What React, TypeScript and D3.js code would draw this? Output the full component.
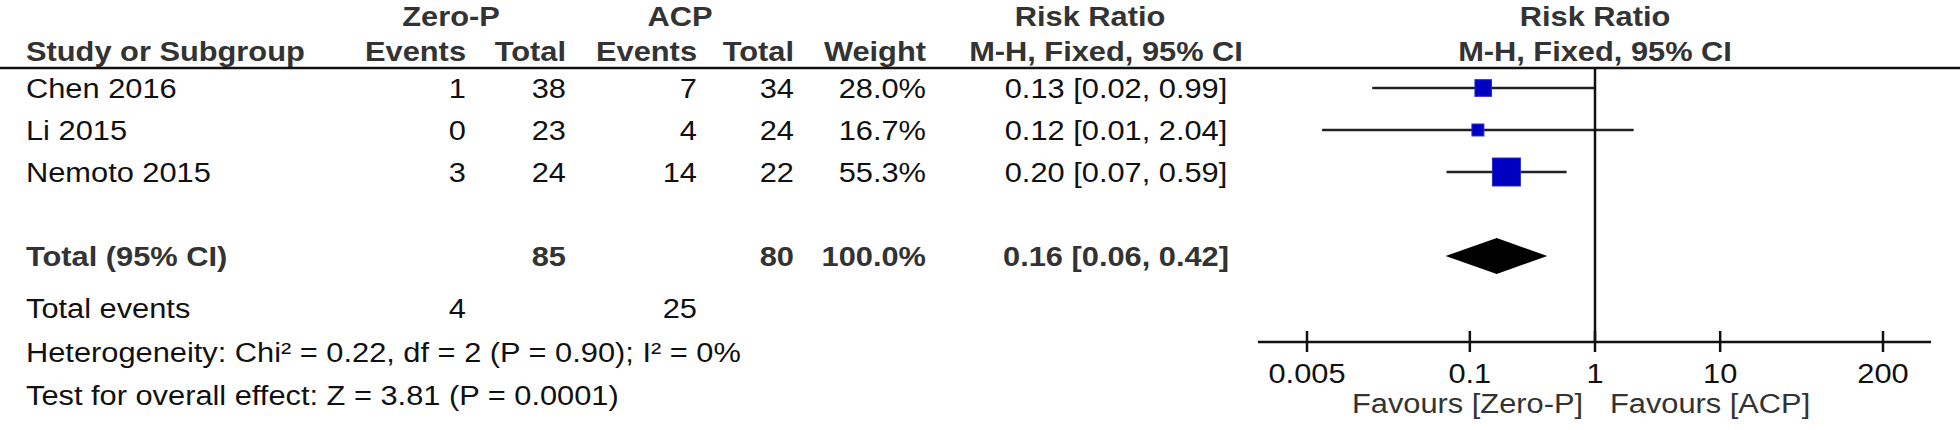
import React from 'react'
import * as d3 from 'd3'

// study rows
const studies = ['Chen 2016', 'Li 2015', 'Nemoto 2015']
const zeroEvents = [1, 0, 3]
const zeroTotal = [38, 23, 24]
const acpEvents = [7, 4, 14]
const acpTotal = [34, 24, 22]
const weights = [28.0, 16.7, 55.3]
const riskRatio = [0.128, 0.116, 0.196]
const ciLow = [0.0166, 0.0066, 0.0651]
const ciHigh = [0.987, 2.036, 0.593]

// pooled
const totalZero = 85
const totalAcp = 80
const totalWeight = 100.0
const pooledRR = 0.164
const pooledLow = 0.064
const pooledHigh = 0.416
const totalEventsZero = 4
const totalEventsAcp = 25
const heterogeneity = 'Heterogeneity: Chi² = 0.22, df = 2 (P = 0.90); I² = 0%'
const overallEffect = 'Test for overall effect: Z = 3.81 (P = 0.0001)'

const axisTicks = [0.005, 0.1, 1, 10, 200]
const favours = ['Favours [Zero-P]', 'Favours [ACP]']

const W = 1960
const H = 430
const FONT = '"Liberation Sans", Arial, Helvetica, sans-serif'
const FS = 28
const STRETCH = 1.1 // the source text is a little wider than Arial

// column anchors
const COL = {
  study: 26,
  zeroEv: 466,
  zeroTot: 566,
  acpEv: 697,
  acpTot: 794,
  weight: 926,
  rr: 1116,
}

const f2 = d3.format('.2f')
const f1 = d3.format('.1f')
const ciText = (m: number, lo: number, hi: number) => `${f2(m)} [${f2(lo)}, ${f2(hi)}]`

type TProps = {
  x: number
  y: number
  anchor?: 'start' | 'middle' | 'end'
  bold?: boolean
  fill?: string
  children: React.ReactNode
}

// text with a slight horizontal stretch
function T({ x, y, anchor = 'start', bold = false, fill = '#111', children }: TProps) {
  return (
    <text
      transform={`translate(${x},${y}) scale(${STRETCH},1)`}
      textAnchor={anchor}
      fontWeight={bold ? 700 : 400}
      fill={fill}
    >
      {children}
    </text>
  )
}

export default function App() {
  const x = d3.scaleLog().domain([0.005, 200]).range([1307, 1883])
  const row = d3.scaleLinear().domain([0, 4]).range([88, 256])
  const box = d3.scaleLinear().domain([0, d3.max(weights) as number]).range([5, 28])
  const axisY = 342
  const headerLine = 68
  const footer = [318, 362, 405]
  const HC = '#333'

  const diamond = [
    [x(pooledLow), row(4)],
    [x(pooledRR), row(4) - 18],
    [x(pooledHigh), row(4)],
    [x(pooledRR), row(4) + 18],
  ]

  return (
    <svg width={W} height={H} style={{ position: 'absolute', left: 0, top: 0, background: '#fff' }}
      fontFamily={FONT} fontSize={FS}>
      {/* header */}
      <T x={451} y={26} anchor="middle" bold fill={HC}>Zero-P</T>
      <T x={680} y={26} anchor="middle" bold fill={HC}>ACP</T>
      <T x={1090} y={26} anchor="middle" bold fill={HC}>Risk Ratio</T>
      <T x={x(1)} y={26} anchor="middle" bold fill={HC}>Risk Ratio</T>
      <T x={COL.study} y={61} bold fill={HC}>Study or Subgroup</T>
      <T x={COL.zeroEv} y={61} anchor="end" bold fill={HC}>Events</T>
      <T x={COL.zeroTot} y={61} anchor="end" bold fill={HC}>Total</T>
      <T x={COL.acpEv} y={61} anchor="end" bold fill={HC}>Events</T>
      <T x={COL.acpTot} y={61} anchor="end" bold fill={HC}>Total</T>
      <T x={COL.weight} y={61} anchor="end" bold fill={HC}>Weight</T>
      <T x={1106} y={61} anchor="middle" bold fill={HC}>M-H, Fixed, 95% CI</T>
      <T x={x(1)} y={61} anchor="middle" bold fill={HC}>M-H, Fixed, 95% CI</T>
      <line x1={0} x2={W} y1={headerLine} y2={headerLine} stroke="#111" strokeWidth={2.5} />

      {/* study rows */}
      {studies.map((s, i) => {
        const y = row(i)
        const b = box(weights[i])
        const ty = y + 10
        return (
          <g key={s}>
            <T x={COL.study} y={ty}>{s}</T>
            <T x={COL.zeroEv} y={ty} anchor="end">{zeroEvents[i]}</T>
            <T x={COL.zeroTot} y={ty} anchor="end">{zeroTotal[i]}</T>
            <T x={COL.acpEv} y={ty} anchor="end">{acpEvents[i]}</T>
            <T x={COL.acpTot} y={ty} anchor="end">{acpTotal[i]}</T>
            <T x={COL.weight} y={ty} anchor="end">{f1(weights[i])}%</T>
            <T x={COL.rr} y={ty} anchor="middle">{ciText(riskRatio[i], ciLow[i], ciHigh[i])}</T>
            <line x1={x(ciLow[i])} x2={x(ciHigh[i])} y1={y} y2={y} stroke="#222" strokeWidth={2.5} />
            <rect x={x(riskRatio[i]) - b / 2} y={y - b / 2} width={b} height={b}
              fill="#0000c0" stroke="#2a2ad0" strokeWidth={1} />
          </g>
        )
      })}

      {/* pooled row */}
      <T x={COL.study} y={row(4) + 10} bold fill={HC}>Total (95% CI)</T>
      <T x={COL.zeroTot} y={row(4) + 10} anchor="end" bold fill={HC}>{totalZero}</T>
      <T x={COL.acpTot} y={row(4) + 10} anchor="end" bold fill={HC}>{totalAcp}</T>
      <T x={COL.weight} y={row(4) + 10} anchor="end" bold fill={HC}>{f1(totalWeight)}%</T>
      <T x={COL.rr} y={row(4) + 10} anchor="middle" bold fill={HC}>{ciText(pooledRR, pooledLow, pooledHigh)}</T>
      <polygon points={diamond.map(p => p.join(',')).join(' ')} fill="#000" />

      {/* footer text */}
      <T x={COL.study} y={footer[0]}>Total events</T>
      <T x={COL.zeroEv} y={footer[0]} anchor="end">{totalEventsZero}</T>
      <T x={COL.acpEv} y={footer[0]} anchor="end">{totalEventsAcp}</T>
      <T x={COL.study} y={footer[1]}>{heterogeneity}</T>
      <T x={COL.study} y={footer[2]}>{overallEffect}</T>

      {/* null line and axis */}
      <line x1={x(1)} x2={x(1)} y1={headerLine} y2={axisY} stroke="#111" strokeWidth={2.5} />
      <line x1={x(0.005) - 49} x2={x(200) + 48} y1={axisY} y2={axisY} stroke="#111" strokeWidth={2.5} />
      {axisTicks.map(t => (
        <g key={t}>
          <line x1={x(t)} x2={x(t)} y1={axisY - 11} y2={axisY + 10} stroke="#111" strokeWidth={2.5} />
          <T x={x(t)} y={383} anchor="middle">{String(t)}</T>
        </g>
      ))}
      <T x={x(1) - 12} y={413} anchor="end" fill="#333">{favours[0]}</T>
      <T x={x(1) + 15} y={413} fill="#333">{favours[1]}</T>
    </svg>
  )
}
